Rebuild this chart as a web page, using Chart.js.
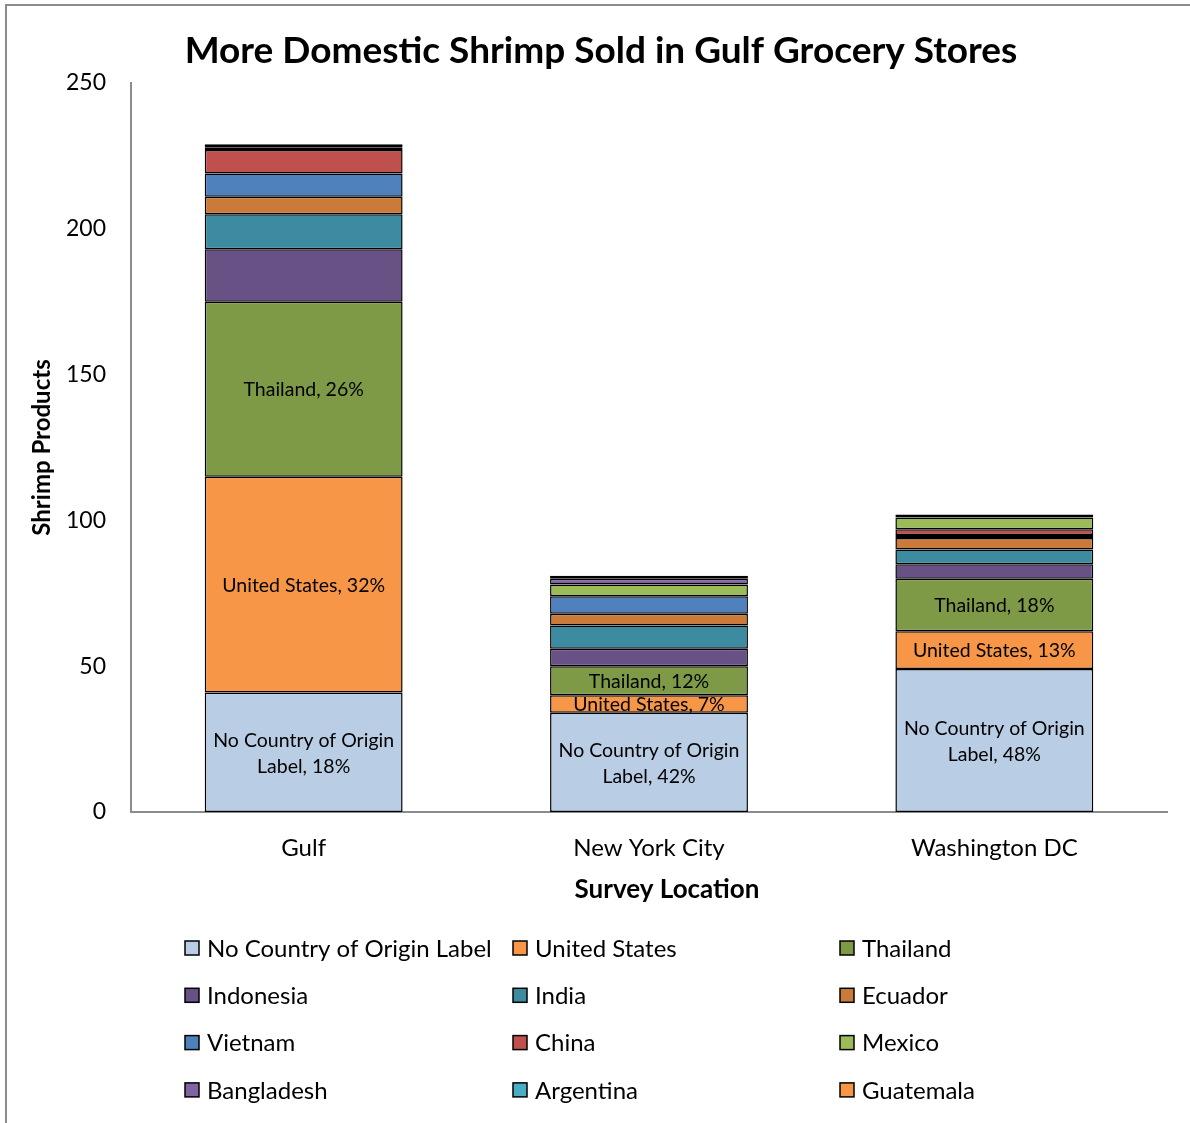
<!DOCTYPE html>
<html>
<head>
<meta charset="utf-8">
<script src="https://cdn.jsdelivr.net/npm/chart.js@4.4.1/dist/chart.umd.min.js"></script>
<style>
  html, body { margin: 0; padding: 0; background: #fff; }
  canvas { display: block; }
</style>
</head>
<body>
<canvas id="chart" width="1190" height="1123"></canvas>
<script>
// Shrimp products found per survey location, by country of origin
const chartTitle = 'More Domestic Shrimp Sold in Gulf Grocery Stores';
const xAxisTitle = 'Survey Location';
const yAxisTitle = 'Shrimp Products';
const locations = ['Gulf', 'New York City', 'Washington DC'];
const origins = ['No Country of Origin Label', 'United States', 'Thailand', 'Indonesia', 'India', 'Ecuador',
                 'Vietnam', 'China', 'Mexico', 'Bangladesh', 'Argentina', 'Guatemala'];

const noLabel      = [41, 34, 49];
const unitedStates = [74, 6, 13];
const thailand     = [60, 10, 18];
const indonesia    = [18, 6, 5];
const india        = [12, 8, 5];
const ecuador      = [6, 4, 4];
const vietnam      = [8, 6, 1];
const china        = [8, 0, 2];
const mexico       = [0, 4, 4];
const bangladesh   = [1, 2, 0];
const argentina    = [0, 1, 1];
const guatemala    = [1, 0, 0];

const yTicks = [0, 50, 100, 150, 200, 250];

const seriesValues = [noLabel, unitedStates, thailand, indonesia, india, ecuador,
                      vietnam, china, mexico, bangladesh, argentina, guatemala];
const seriesColors = ['#B9CDE5', '#F79646', '#7E9A47', '#675185', '#3C8BA0', '#CB7B39',
                      '#4F81BD', '#C0504D', '#9BBB59', '#8064A2', '#4BACC6', '#F79646'];
// Series whose segments carry a "name, percent" label
const labelledSeries = [0, 1, 2];
const shortNames = ['No Country of Origin|Label', 'United States', 'Thailand'];

const FONT = 'Lato, Carlito, Calibri, "Open Sans", sans-serif';

const totals = locations.map((_, j) => seriesValues.reduce((s, arr) => s + arr[j], 0));

const datasets = origins.map((name, i) => ({
  label: name,
  data: seriesValues[i],
  backgroundColor: seriesColors[i],
  borderColor: '#000',
  borderWidth: 1.5,
  borderSkipped: false,
  categoryPercentage: 1.0,
  barPercentage: 0.573
}));

const decorations = {
  id: 'decorations',
  beforeDraw(chart) {
    const ctx = chart.ctx;
    ctx.save();
    ctx.fillStyle = '#fff';
    ctx.fillRect(0, 0, chart.width, chart.height);
    ctx.strokeStyle = '#8c8c8c';
    ctx.lineWidth = 2;
    ctx.beginPath();
    ctx.moveTo(6, chart.height);
    ctx.lineTo(6, 5);
    ctx.lineTo(chart.width, 5);
    ctx.stroke();
    ctx.restore();
  },
  afterDatasetsDraw(chart) {
    const ctx = chart.ctx;
    ctx.save();
    ctx.fillStyle = '#000';
    ctx.font = '19.5px ' + FONT;
    ctx.textAlign = 'center';
    ctx.textBaseline = 'middle';
    labelledSeries.forEach((di, k) => {
      const meta = chart.getDatasetMeta(di);
      meta.data.forEach((bar, j) => {
        const v = chart.data.datasets[di].data[j];
        if (!v) return;
        const pct = Math.round(v / totals[j] * 100) + '%';
        const parts = shortNames[k].split('|');
        parts[parts.length - 1] += ', ' + pct;
        const cy = (bar.y + bar.base) / 2;
        const lh = 26;
        parts.forEach((line, li) => {
          ctx.fillText(line, bar.x, cy + 1 + (li - (parts.length - 1) / 2) * lh);
        });
      });
    });
    ctx.restore();
  },
  afterDraw(chart) {
    const ctx = chart.ctx;
    ctx.save();
    ctx.fillStyle = '#000';
    ctx.textAlign = 'center';
    ctx.textBaseline = 'middle';
    // chart title
    ctx.font = 'bold 37px ' + FONT;
    ctx.fillText(chartTitle, 601, 51);
    // x axis title
    ctx.font = 'bold 26px ' + FONT;
    ctx.fillText(xAxisTitle, 667, 890);
    // legend, three columns
    const colX = [185, 513, 840];
    ctx.font = '24px ' + FONT;
    ctx.textAlign = 'left';
    chart.data.datasets.forEach((ds, i) => {
      const x = colX[i % 3];
      const y = 948 + Math.floor(i / 3) * 47.3;
      ctx.fillStyle = ds.backgroundColor;
      ctx.fillRect(x, y - 7, 14, 14);
      ctx.strokeStyle = '#000';
      ctx.lineWidth = 1.5;
      ctx.strokeRect(x, y - 7, 14, 14);
      ctx.fillStyle = '#000';
      ctx.fillText(ds.label, x + 22, y + 1);
    });
    ctx.restore();
  }
};

new Chart(document.getElementById('chart'), {
  type: 'bar',
  data: { labels: locations, datasets },
  plugins: [decorations],
  options: {
    responsive: false,
    animation: false,
    layout: { padding: { left: 0, right: 23, top: 83, bottom: 211 } },
    plugins: {
      legend: { display: false },
      title: { display: false },
      tooltip: { enabled: false }
    },
    scales: {
      x: {
        stacked: true,
        grid: { display: false, drawTicks: false },
        border: { display: true, color: '#8c8c8c', width: 2 },
        ticks: { color: '#000', font: { family: FONT, size: 24 }, padding: 22, maxRotation: 0 },
        afterFit(scale) { scale.height = 100; }
      },
      y: {
        stacked: true,
        min: yTicks[0],
        max: yTicks[yTicks.length - 1],
        afterBuildTicks(scale) { scale.ticks = yTicks.map(v => ({ value: v })); },
        grid: { display: false, drawTicks: false },
        border: { display: true, color: '#8c8c8c', width: 2 },
        ticks: { color: '#000', font: { family: FONT, size: 23 }, padding: 25 },
        title: {
          display: true,
          text: yAxisTitle,
          color: '#000',
          font: { family: FONT, size: 24, weight: 'bold' },
          padding: { top: 28, bottom: 0 }
        },
        afterFit(scale) { scale.width = 131; }
      }
    }
  }
});
</script>
</body>
</html>
